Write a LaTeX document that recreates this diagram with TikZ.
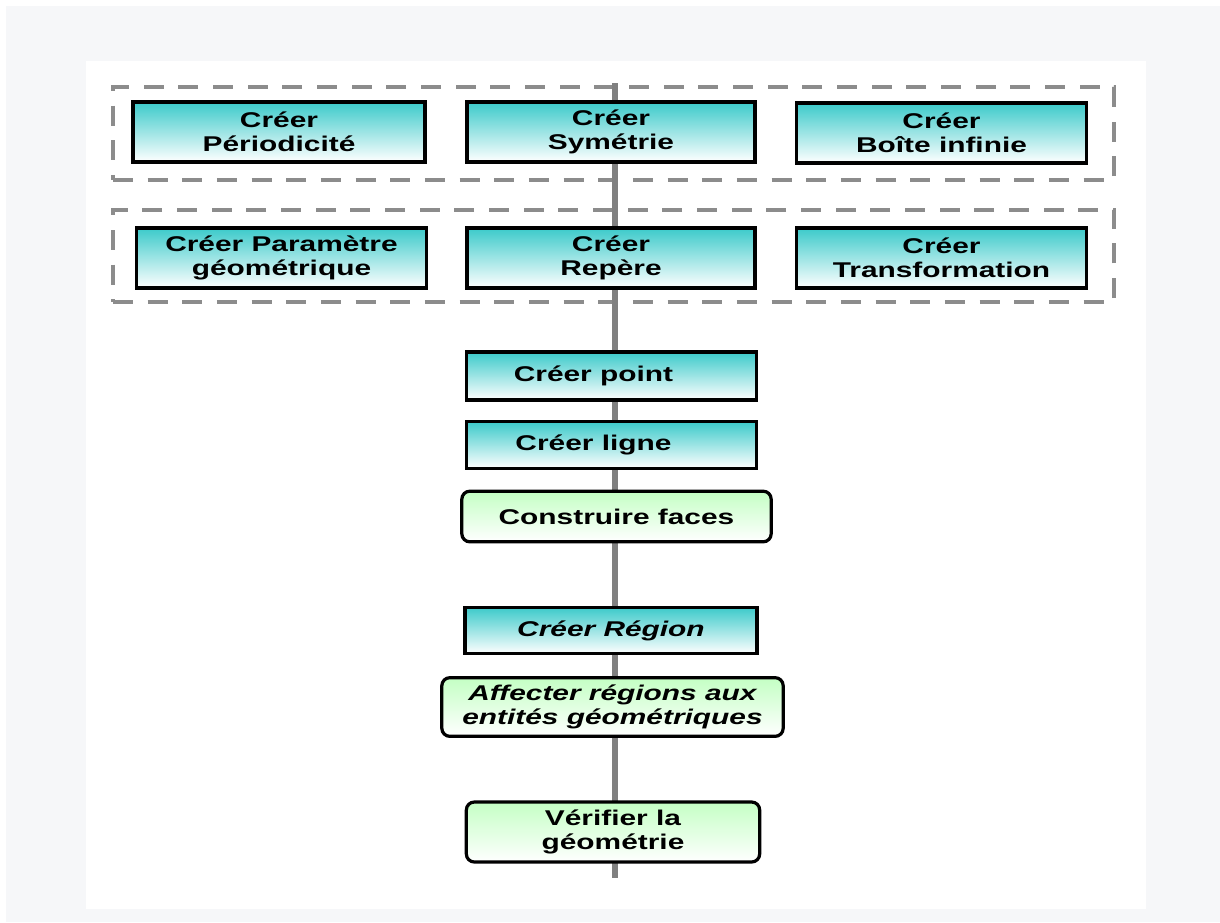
\documentclass[tikz,border=0pt]{standalone}
\usepackage{fontspec}
\newfontfamily\boxfont[FakeStretch=1.4]{Liberation Sans}
\definecolor{bgGray}{RGB}{246,247,249}
\definecolor{cyanT}{RGB}{60,202,202}
\definecolor{greenT}{RGB}{196,255,196}
\definecolor{lineGray}{RGB}{128,128,128}
\definecolor{dashGray}{RGB}{140,140,140}
\tikzset{
  txt/.style={font={\boxfont\bfseries\fontsize{16pt}{18pt}\selectfont}, align=center, inner sep=0pt, text=black},
  itxt/.style={font={\boxfont\bfseries\itshape\fontsize{16pt}{18pt}\selectfont}},
  cbox/.style={txt, draw=black, line width=2.4pt, rectangle, top color=cyanT, bottom color=white},
  gbox/.style={txt, draw=black, line width=2.4pt, rectangle, rounded corners=6pt, top color=greenT, bottom color=white},
  grp/.style={draw=dashGray, line width=3pt, dash pattern=on 15pt off 11pt, rectangle, inner sep=0pt, minimum width=751pt, minimum height=70pt},
  spine/.style={draw=lineGray, line width=5pt}
}
\begin{document}
\begin{tikzpicture}[x=0.75pt,y=-0.75pt]
\useasboundingbox (0,0) rectangle (1220,922);
\fill[white] (0,0) rectangle (1220,922);
\fill[bgGray] (6,6) rectangle (1220,922);
\fill[white] (86,61) rectangle (1146,909);
% dashed groups
\node[grp] (g1) at (613.5,133.5) {};
\node[grp, minimum height=69pt] (g2) at (613.5,256) {};
% spine
\coordinate (ltop) at (615,83);
\coordinate (lbot) at (615,878);
\draw[spine] (ltop) -- (lbot);
% row 1
\node[cbox, minimum width=219pt, minimum height=45pt] (per) at (279,132) {Créer\\Périodicité};
\node[cbox, minimum width=216pt, minimum height=45pt] (sym) at (611,132) {Créer\\Symétrie};
\node[cbox, minimum width=218pt, minimum height=45pt] (boi) at (941.5,133) {Créer\\Boîte infinie};
% row 2
\node[cbox, minimum width=218pt, minimum height=45pt] (par) at (281.5,258) {Créer Paramètre\\géométrique};
\node[cbox, minimum width=216pt, minimum height=45pt] (rep) at (611,258) {Créer\\Repère};
\node[cbox, minimum width=218pt, minimum height=45pt] (tra) at (941.5,258) {Créer\\Transformation};
% column
\node[cbox, minimum width=218pt, minimum height=36pt] (pnt) at (611.5,376) {Créer point\hspace*{27pt}};
\node[cbox, minimum width=218pt, minimum height=35pt] (lig) at (611.5,445) {Créer ligne\hspace*{27pt}};
\node[gbox, minimum width=232pt, minimum height=38pt] (fac) at (616.5,516.5) {Construire faces};
\node[cbox, itxt, minimum width=219pt, minimum height=35pt] (reg) at (611,630.5) {Créer Région};
\node[gbox, itxt, minimum width=256pt, minimum height=44pt] (aff) at (612.5,707) {Affecter régions aux\\entités géométriques};
\node[gbox, minimum width=220pt, minimum height=45pt] (ver) at (613,832) {Vérifier la\\géométrie};
\end{tikzpicture}
\end{document}
